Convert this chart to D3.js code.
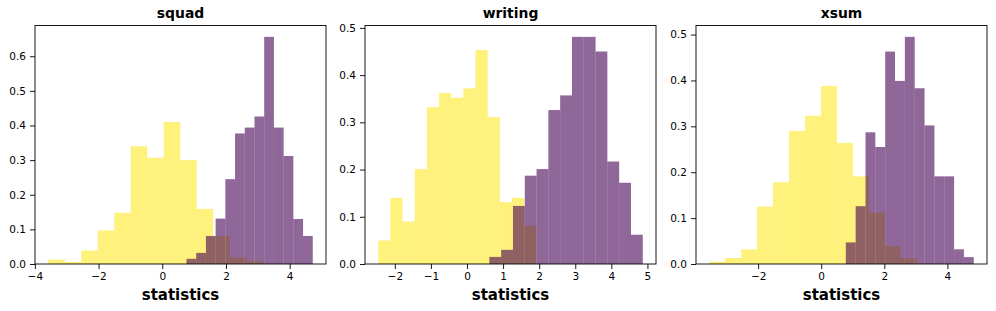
<!DOCTYPE html>
<html>
<head>
<meta charset="utf-8">
<script src="https://cdn.jsdelivr.net/npm/d3@7"></script>
<style>
    body { margin: 0; background: #fff; }
    text { font-family: 'DejaVu Sans', sans-serif; }
</style>
</head>
<body>
<div id="app"></div>
<script>
;(()=>{

    // panel titles
    const titles = ['squad', 'writing', 'xsum']

    // histogram bins: first left edge + bin width, per panel
    const yellowStart = [-3.58, -2.46, -3.55]
    const yellowWidth = [0.518, 0.337, 0.506]
    const purpleStart = [0.76, 0.62, 0.78]
    const purpleWidth = [0.305, 0.327, 0.312]

    // densities
    const squadYellow   = [0.013, 0.006, 0.039, 0.097, 0.148, 0.340, 0.307, 0.410, 0.300, 0.159, 0.080, 0.019, 0.008]
    const squadPurple   = [0.015, 0.032, 0.081, 0.131, 0.245, 0.377, 0.394, 0.426, 0.656, 0.394, 0.312, 0.130, 0.081]
    const writingYellow = [0.050, 0.140, 0.090, 0.201, 0.332, 0.362, 0.352, 0.372, 0.453, 0.311, 0.131, 0.140, 0.081]
    const writingPurple = [0.015, 0.030, 0.123, 0.187, 0.201, 0.326, 0.357, 0.481, 0.481, 0.450, 0.217, 0.172, 0.062]
    const xsumYellow    = [0.005, 0.013, 0.032, 0.125, 0.178, 0.290, 0.323, 0.388, 0.264, 0.191, 0.112, 0.039, 0.013]
    const xsumPurple    = [0.047, 0.126, 0.287, 0.255, 0.463, 0.399, 0.495, 0.383, 0.302, 0.191, 0.191, 0.032, 0.015]

    const yellowSeries = [squadYellow, writingYellow, xsumYellow]
    const purpleSeries = [squadPurple, writingPurple, xsumPurple]

    // tick values
    const xTicks = [
        [-4, -2, 0, 2, 4],
        [-2, -1, 0, 1, 2, 3, 4, 5],
        [-2, 0, 2, 4]
    ]
    const yTicks = [
        [0, 0.1, 0.2, 0.3, 0.4, 0.5, 0.6],
        [0, 0.1, 0.2, 0.3, 0.4, 0.5],
        [0, 0.1, 0.2, 0.3, 0.4, 0.5]
    ]

    const width = 996
    const height = 311
    const panelLeft = [35, 365, 696]
    const panelWidth = 291
    const top = 25.5
    const bottom = 264

    const svg = d3
        .create('svg')
        .attr('viewBox', [0, 0, width, height])
        .attr('width', width)
        .attr('height', height)
        .style('display', 'block')

    svg.append('rect')
        .attr('width', width)
        .attr('height', height)
        .attr('fill', '#fff')

    const toBins = (start, w, vals) => vals.map((v, i) => ({x0: start + i * w, x1: start + (i + 1) * w, v: v}))

    titles.forEach((title, p) => {
        const yellow = toBins(yellowStart[p], yellowWidth[p], yellowSeries[p])
        const purple = toBins(purpleStart[p], purpleWidth[p], purpleSeries[p])

        // matplotlib style 5% margins
        const lo = Math.min(yellow[0].x0, purple[0].x0)
        const hi = Math.max(yellow[yellow.length-1].x1, purple[purple.length-1].x1)
        const pad = (hi - lo) * 0.05
        const ymax = d3.max(yellowSeries[p].concat(purpleSeries[p])) * 1.05

        const x_scale = d3
            .scaleLinear()
            .domain([lo - pad, hi + pad])
            .range([panelLeft[p], panelLeft[p] + panelWidth])

        const y_scale = d3
            .scaleLinear()
            .domain([0, ymax])
            .range([bottom, top])

        const g = svg.append('g')

        const drawBars = (bins, color) => {
            g.append('g')
                .selectAll('rect')
                .data(bins)
                .join('rect')
                .attr('x', d => x_scale(d.x0))
                .attr('y', d => y_scale(d.v))
                .attr('width', d => x_scale(d.x1) - x_scale(d.x0))
                .attr('height', d => y_scale(0) - y_scale(d.v))
                .attr('fill', color)
                .attr('fill-opacity', 0.6)
        }

        drawBars(yellow, '#fde725')
        drawBars(purple, '#440154')

        // frame
        g.append('rect')
            .attr('x', panelLeft[p])
            .attr('y', top)
            .attr('width', panelWidth)
            .attr('height', bottom - top)
            .attr('fill', 'none')
            .attr('stroke', '#000')
            .attr('stroke-width', 0.9)

        const xAxis = g.append('g')
            .attr('transform', `translate(0, ${bottom})`)
            .call(d3.axisBottom(x_scale).tickValues(xTicks[p]).tickFormat(d3.format('d')).tickSize(5).tickPadding(3.5).tickSizeOuter(0))
        xAxis.select('.domain').remove()

        const yAxis = g.append('g')
            .attr('transform', `translate(${panelLeft[p]}, 0)`)
            .call(d3.axisLeft(y_scale).tickValues(yTicks[p]).tickFormat(d3.format('.1f')).tickSize(5).tickPadding(4).tickSizeOuter(0))
        yAxis.select('.domain').remove()

        g.selectAll('.tick text')
            .style('font-family', "'DejaVu Sans', sans-serif")
            .style('font-size', '10.5px')
            .attr('fill', '#000')
        g.selectAll('.tick line')
            .attr('stroke', '#000')
            .attr('stroke-width', 0.9)

        g.append('text')
            .attr('x', panelLeft[p] + panelWidth / 2)
            .attr('y', 18)
            .attr('text-anchor', 'middle')
            .style('font-size', '13.9px')
            .style('font-weight', 'bold')
            .text(title)

        g.append('text')
            .attr('x', panelLeft[p] + panelWidth / 2)
            .attr('y', 300)
            .attr('text-anchor', 'middle')
            .style('font-size', '15px')
            .style('font-weight', 'bold')
            .text('statistics')
    })

    d3.select('#app').append(() => svg.node())

})()
</script>
</body>
</html>
